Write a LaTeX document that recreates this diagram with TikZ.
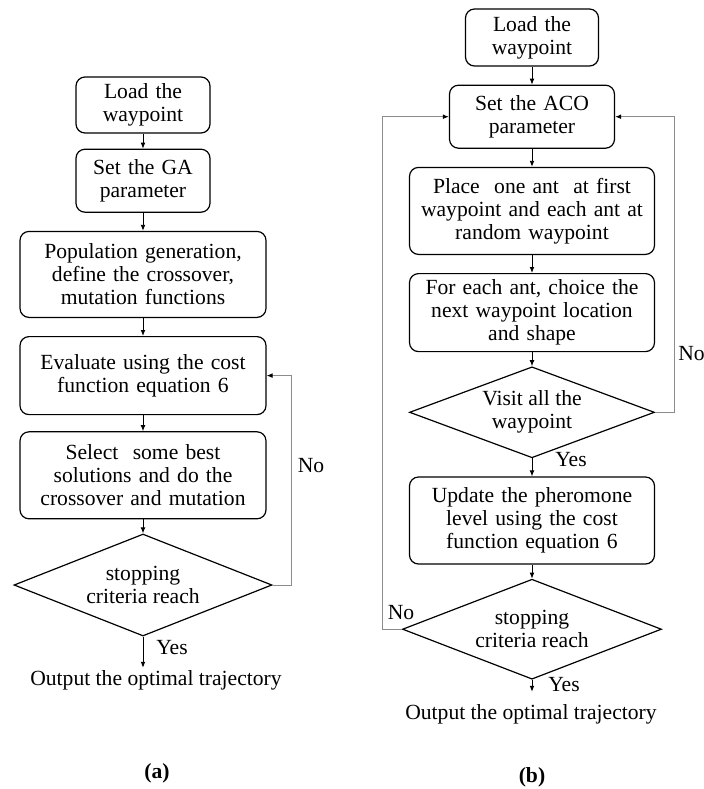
\documentclass[tikz,border=0pt]{standalone}
\usepackage{fontspec}
\setmainfont{Liberation Serif}
\usepackage{xcolor}
\usepackage{tikz}
\usetikzlibrary{arrows.meta,positioning,shapes.geometric}
\definecolor{fbgray}{HTML}{8C8C8C}

\begin{document}
\begin{tikzpicture}[
  x=0.5pt,y=-0.5pt,node distance=9pt,font=\fontsize{10.8}{11.5}\selectfont,
  bx/.style={draw,line width=0.6pt,rounded corners=4.5pt,align=center,inner xsep=3pt,inner ysep=2pt},
  dm/.style={draw,line width=0.6pt,diamond,aspect=2.5,inner sep=0pt,align=center},
  lbl/.style={inner sep=0pt},
  ar/.style={-{Latex[length=3pt,width=2.4pt]},line width=0.45pt},
  fb/.style={-{Latex[length=3pt,width=2.4pt,color=black]},line width=0.5pt,fbgray}
]
\useasboundingbox (0,0) rectangle (704,789);
\node[bx,text width=61pt,minimum height=28pt] (lload) at (143,105) {Load the\\waypoint};
\node[bx,text width=61pt,minimum height=31.5pt,below=7.5pt of lload] (lga) {Set the GA\\parameter};
\node[bx,text width=117pt,minimum height=43pt,below=of lga] (lpop) {Population generation,\\define the crossover,\\mutation functions};
\node[bx,text width=117pt,minimum height=39pt,below=of lpop] (leval) {Evaluate using the cost\\function equation 6};
\node[bx,text width=117pt,minimum height=43.5pt,below=8pt of leval] (lsel) {Select\ \ some best\\solutions and do the\\crossover and mutation};
\node[dm,minimum width=129pt,minimum height=51pt,below=7pt of lsel] (lstop) {stopping\\criteria reach};
\node[lbl] (lout) at (156,680) {Output the optimal trajectory};
\node[lbl] (lyes) at (172,648) {Yes};
\node[lbl] (lno) at (311,466) {No};
\node[lbl] (capa) at (157,773) {\textbf{(a)}};
\draw[ar] (lload)--(lga);
\draw[ar] (lga)--(lpop);
\draw[ar] (lpop)--(leval);
\draw[ar] (leval)--(lsel);
\draw[ar] (lsel)--(lstop);
\draw[ar] (lstop.south)--([yshift=1pt]lstop.south |- lout.north);
\draw[fb] (lstop.east)--++(19,0)|-(leval.east);

\node[bx,text width=60.5pt,minimum height=28.5pt] (rload) at (532,37.5) {Load the\\waypoint};
\node[bx,text width=76.5pt,minimum height=31.5pt,below=of rload] (rset) {Set the ACO\\parameter};
\node[bx,text width=116.5pt,minimum height=43.5pt,below=of rset] (rplace) {Place\ \ one ant\ \ at first\\waypoint and each ant at\\random waypoint};
\node[bx,text width=116.5pt,minimum height=39pt,below=of rplace] (rchoice) {For each ant, choice the\\next waypoint location\\and shape};
\node[dm,minimum width=122.5pt,minimum height=45.5pt,below=7pt of rchoice] (rvisit) {Visit all the\\waypoint};
\node[bx,text width=116.5pt,minimum height=43.5pt,below=of rvisit] (rupd) {Update the pheromone\\level using the cost\\function equation 6};
\node[dm,minimum width=129.5pt,minimum height=50pt,below=7pt of rupd] (rstop) {stopping\\criteria reach};
\node[lbl] (rout) at (531,714) {Output the optimal trajectory};
\node[lbl] (ryes1) at (571,460) {Yes};
\node[lbl] (ryes2) at (564,685) {Yes};
\node[lbl,anchor=west] (rno1) at (678,354) {No};
\node[lbl] (rno2) at (401,613) {No};
\node[lbl] (capb) at (532,777) {\textbf{(b)}};
\draw[ar] (rload)--(rset);
\draw[ar] (rset)--(rplace);
\draw[ar] (rplace)--(rchoice);
\draw[ar] (rchoice)--(rvisit);
\draw[ar] (rvisit)--(rupd);
\draw[ar] (rupd)--(rstop);
\draw[ar] (rstop.south)--([yshift=6pt]rstop.south |- rout.north);
\draw[fb] (rvisit.east)--++(19,0)|-(rset.east);
\draw[fb] (rstop.west)--++(-19,0)|-(rset.west);
\end{tikzpicture}
\end{document}
